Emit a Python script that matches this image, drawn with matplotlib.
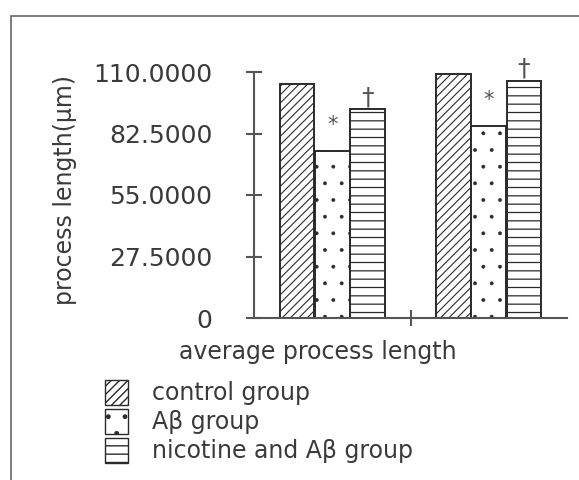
import matplotlib.pyplot as plt
from matplotlib.patches import Rectangle, Patch

groups = ["1", "2"]
control = [104.8, 109.0]
abeta = [74.7, 85.8]
nicotine = [93.3, 106.0]
series_names = ["control group", "Aβ group", "nicotine and Aβ group"]
yticks = [0, 27.5, 55, 82.5, 110]
ytick_labels = ["0", "27.5000", "55.0000", "82.5000", "110.0000"]

txt = "#3a3a3a"
edge = "#2a2a2a"
plt.rcParams["hatch.color"] = edge

fig = plt.figure(figsize=(5.79, 4.8), dpi=100)
ax = fig.add_axes([254 / 579, 1 - 318 / 480, (567 - 254) / 579, (318 - 72) / 480])

w = 0.222
hatches = ["////", ".", "--"]
hatch_lw = [0.8, 0.3, 0.9]
for i, g in enumerate(groups):
    vals = [control[i], abeta[i], nicotine[i]]
    for j, v in enumerate(vals):
        with plt.rc_context({"hatch.linewidth": hatch_lw[j]}):
            ax.bar(i + 0.5 + (j - 1) * 0.225, v, width=w, facecolor="white",
                   edgecolor=edge, hatch=hatches[j], linewidth=1.4)
    ax.text(i + 0.5, abeta[i] + 7, "*", ha="center", va="bottom",
            fontsize=15, color="#555555")
    ax.text(i + 0.5 + 0.225, nicotine[i], "†", ha="center", va="bottom",
            fontsize=18, color="#555555")

ax.set_xlim(0, 2)
ax.set_ylim(0, 110)
ax.set_yticks(yticks)
ax.set_yticklabels(ytick_labels)
ax.set_xticks([1])
ax.set_xticklabels([])
ax.spines["top"].set_visible(False)
ax.spines["right"].set_visible(False)
for s in ["left", "bottom"]:
    ax.spines[s].set_color("#555555")
    ax.spines[s].set_linewidth(1.5)
ax.tick_params(axis="both", direction="inout", length=12, width=1.5,
               color="#555555", labelcolor=txt, labelsize=18)
ax.tick_params(axis="y", pad=24)

fig.text(65 / 579, 1 - 190 / 480, "process length(μm)", rotation=90,
         ha="center", va="center", fontsize=17, color=txt)
fig.text(318 / 579, 1 - 352 / 480, "average process length", ha="center",
         va="center", fontsize=17, color=txt)

handles = []
for h, lw in zip(hatches, hatch_lw):
    with plt.rc_context({"hatch.linewidth": lw}):
        handles.append(Patch(facecolor="white", edgecolor=edge, hatch=h,
                             linewidth=1.0))
leg = fig.legend(handles, series_names, loc="upper left",
                 bbox_to_anchor=(93 / 579, 1 - 368 / 480), frameon=False,
                 fontsize=17, handlelength=1.0, handleheight=1.25,
                 handletextpad=1.0, labelspacing=0.15, borderpad=0)
for t in leg.get_texts():
    t.set_color(txt)

fig.patches.append(Rectangle((11 / 579, -0.1), 2, 1 - 16 / 480 + 0.1,
                             transform=fig.transFigure, fill=False,
                             edgecolor="#666666", linewidth=1.2))

fig.savefig("out.png", dpi=100)
